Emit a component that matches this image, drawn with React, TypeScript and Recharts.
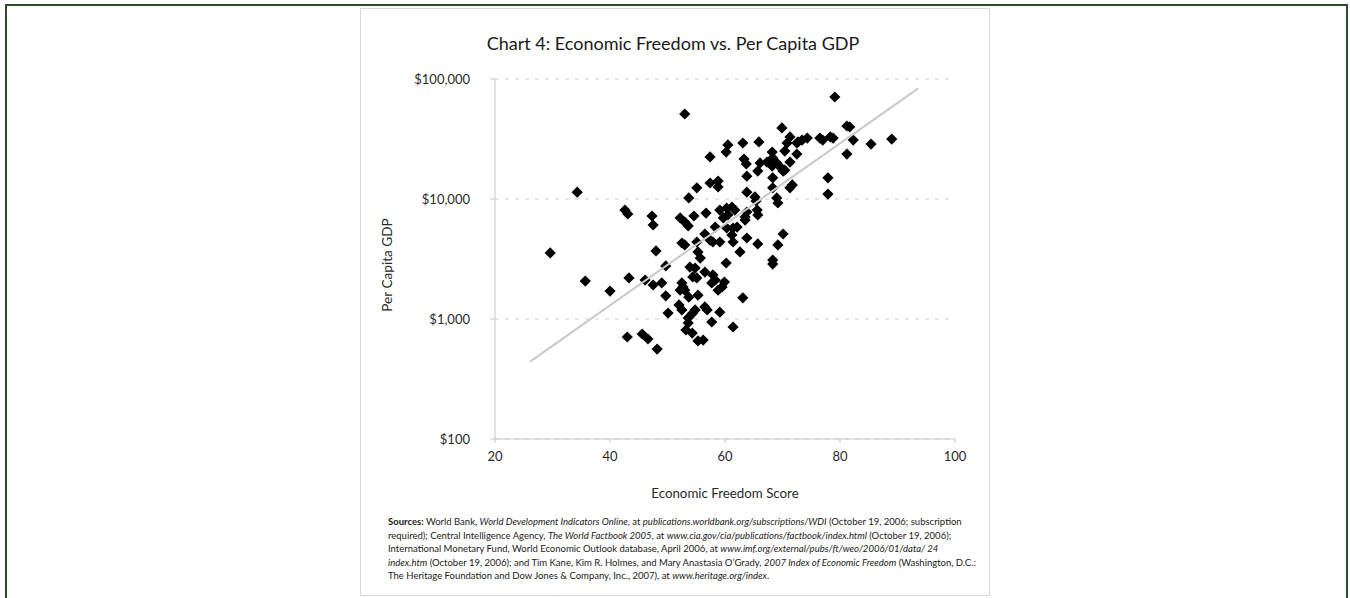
import React from 'react';
import { ScatterChart, Scatter, XAxis, YAxis, CartesianGrid } from 'recharts';

const freedomScores = [
  29.6, 34.3, 35.7, 40.0, 42.6, 43.1, 47.3, 47.5, 48.0, 52.2, 53.0, 53.6, 54.6, 56.7, 53.0, 53.7, 55.1, 52.5, 53.0, 55.1,
  55.3, 55.7, 57.4, 57.4, 58.8, 58.8, 60.2, 60.5, 63.1, 63.3, 63.7, 63.8, 63.8, 65.2, 65.4, 65.9, 65.7, 66.1, 67.3, 68.2,
  68.3, 68.2, 69.0, 69.6, 70.4, 68.3, 68.3, 69.0, 69.2, 69.9, 70.8, 70.4, 71.3, 72.5, 72.5, 71.3, 70.1, 71.7, 71.3, 59.1,
  60.3, 61.2, 61.7, 60.5, 59.7, 63.8, 63.5, 63.5, 65.6, 65.7, 58.3, 60.3, 61.4, 62.1, 56.5, 61.2, 61.4, 57.4, 57.9, 59.1,
  62.6, 63.8, 65.7, 69.2, 70.1, 68.3, 79.1, 72.7, 73.4, 74.3, 76.5, 77.0, 78.3, 78.8, 81.2, 81.7, 82.3, 85.4, 89.0, 81.2,
  77.9, 77.9, 60.2, 68.3, 49.7, 53.9, 54.8, 54.4, 55.1, 56.5, 57.9, 58.3, 57.7, 59.9, 59.5, 58.8, 43.3, 46.1, 47.5, 49.0,
  52.5, 52.7, 52.2, 53.0, 49.7, 53.7, 55.3, 63.1, 52.0, 52.5, 54.8, 54.4, 56.5, 56.9, 50.1, 59.1, 53.6, 53.6, 57.7, 61.4,
  53.2, 54.3, 43.0, 45.6, 46.6, 55.3, 56.2, 48.2,
];

const gdpPerCapita = [
  3550, 11400, 2070, 1710, 8090, 7500, 7220, 6070, 3690, 6950, 6430, 5960, 7220, 7640, 51100, 10200, 12400, 4300, 4140, 4380,
  3620, 3220, 22400, 13600, 14100, 12600, 24600, 28200, 29300, 21500, 19600, 15500, 11400, 10400, 9620, 29900, 17100, 20000, 20300, 24600,
  22000, 18800, 20000, 18500, 17400, 15000, 12400, 10200, 9260, 39100, 29300, 25100, 32900, 29300, 23700, 20300, 17100, 13100, 12400, 8090,
  8410, 8580, 8090, 7360, 6950, 7790, 7080, 6680, 8090, 7360, 5840, 5730, 5730, 5840, 5110, 5010, 4380, 4550, 4380, 4380,
  3620, 4730, 4220, 4140, 5110, 3100, 70800, 29900, 31000, 32200, 32200, 31000, 32900, 32200, 40600, 39800, 31000, 28700, 31600, 23700,
  15000, 11000, 2930, 2870, 2770, 2710, 2660, 2240, 2200, 2460, 2330, 2110, 2000, 2030, 1850, 1740, 2200, 2110, 1920, 2000,
  2000, 1850, 1740, 1740, 1560, 1520, 1580, 1500, 1310, 1190, 1190, 1120, 1260, 1190, 1120, 1140, 1020, 926, 944, 858,
  810, 764, 708, 750, 681, 656, 668, 562,
];

const trendScores = [26.1, 93.6];
const trendGdp = [441, 83600];

const xTicks = [20, 40, 60, 80, 100];
const yTicks = [100, 1000, 10000, 100000];

const points = freedomScores.map((x, i) => ({ x, y: gdpPerCapita[i] }));
const trend = trendScores.map((x, i) => ({ x, y: trendGdp[i] }));

const FONT = 'Lato, "Open Sans", sans-serif';

const Diamond = (props: any) => {
  const { cx, cy } = props;
  const r = 5.6;
  return <path d={`M${cx},${cy - r}L${cx + r},${cy}L${cx},${cy + r}L${cx - r},${cy}Z`} fill="#000" />;
};

const NoShape = () => <g />;

export default function App() {
  return (
    <div style={{ position: 'absolute', left: 0, top: 0, width: 1350, height: 598, background: '#fff', overflow: 'hidden', fontFamily: FONT }}>
      <div style={{ position: 'absolute', left: 5, top: 4, width: 1343, height: 620, border: '2px solid #2c4e2e', boxSizing: 'border-box' }} />
      <div style={{ position: 'absolute', left: 360, top: 8, width: 630, height: 588, border: '1px solid #d9d9d9', boxSizing: 'border-box' }} />
      <div style={{ position: 'absolute', left: 361, top: 30, width: 624, textAlign: 'center', fontSize: 18, lineHeight: '26px', color: '#1a1a1a' }}>
        Chart 4: Economic Freedom vs. Per Capita GDP
      </div>
      <div style={{ position: 'absolute', left: 387 - 60, top: 265 - 10, width: 120, height: 20, lineHeight: '20px', textAlign: 'center', fontSize: 13.6, color: '#2a2a2a', transform: 'rotate(-90deg)' }}>
        Per Capita GDP
      </div>
      <div style={{ position: 'absolute', left: 725 - 100, top: 483, width: 200, lineHeight: '20px', textAlign: 'center', fontSize: 13.3, color: '#2a2a2a' }}>
        Economic Freedom Score
      </div>
      <div style={{ position: 'absolute', left: 388, top: 515, fontSize: 9.5, lineHeight: '13.5px', color: '#1a1a1a', whiteSpace: 'nowrap' }}>
        <div><b>Sources:</b> World Bank, <i>World Development Indicators Online</i>, at <i>publications.worldbank.org/subscriptions/WDI</i> (October 19, 2006; subscription</div>
        <div>required); Central Intelligence Agency, <i>The World Factbook 2005</i>, at <i>www.cia.gov/cia/publications/factbook/index.html</i> (October 19, 2006);</div>
        <div>International Monetary Fund, World Economic Outlook database, April 2006, at <i>www.imf.org/external/pubs/ft/weo/2006/01/data/ 24</i></div>
        <div><i>index.htm</i> (October 19, 2006); and Tim Kane, Kim R. Holmes, and Mary Anastasia O’Grady, <i>2007 Index of Economic Freedom</i> (Washington, D.C.:</div>
        <div>The Heritage Foundation and Dow Jones &amp; Company, Inc., 2007), at <i>www.heritage.org/index</i>.</div>
      </div>
      <div style={{ position: 'absolute', left: 361, top: 8 }}>
        <ScatterChart width={629} height={480} margin={{ top: 71, right: 35, bottom: 19, left: 74 }}>
          <CartesianGrid vertical={false} stroke="#cfcfcf" strokeDasharray="4 6" />
          <XAxis
            type="number"
            dataKey="x"
            domain={[20, 100]}
            ticks={xTicks}
            height={30}
            allowDataOverflow
            axisLine={{ stroke: '#c8c8c8' }}
            tickLine={{ stroke: '#c8c8c8' }}
            tickSize={4}
            tickMargin={9}
            tick={{ fill: '#2a2a2a', fontSize: 13, fontFamily: FONT }}
          />
          <YAxis
            type="number"
            dataKey="y"
            scale="log"
            domain={[100, 100000]}
            ticks={yTicks}
            width={60}
            allowDataOverflow
            tickFormatter={(v: number) => '$' + v.toLocaleString('en-US')}
            axisLine={{ stroke: '#c8c8c8' }}
            tickLine={{ stroke: '#c8c8c8' }}
            tickSize={5}
            tickMargin={20}
            tick={{ fill: '#2a2a2a', fontSize: 13, fontFamily: FONT }}
          />
          <Scatter data={points} shape={Diamond} isAnimationActive={false} />
          <Scatter data={trend} shape={NoShape} line={{ stroke: '#c9c9c9', strokeWidth: 2 }} isAnimationActive={false} />
        </ScatterChart>
      </div>
    </div>
  );
}
